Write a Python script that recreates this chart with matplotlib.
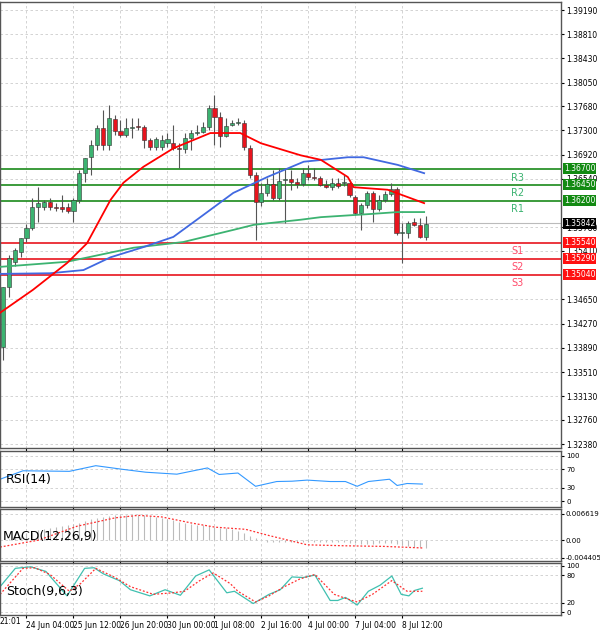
import numpy as np
import matplotlib
matplotlib.use('Agg')
import matplotlib.pyplot as plt

# candles (open, high, low, close)
opens = [1.3390,1.3484,1.3524,1.3539,1.3561,1.3577,1.3610,1.3610,1.3618,1.3610,1.3610,1.3610,1.3604,1.3621,1.3663,
         1.3688,1.3707,1.3734,1.3707,1.3748,1.3729,1.3723,1.3734,1.3737,1.3735,1.3715,1.3704,1.3704,1.3710,1.3710,
         1.3702,1.3701,1.3718,1.3726,1.3728,1.3735,1.3765,1.3751,1.3721,1.3739,1.3742,1.3742,1.3702,1.3660,1.3618,
         1.3632,1.3646,1.3624,1.3652,1.3654,1.3649,1.3646,1.3663,1.3657,1.3655,1.3644,1.3641,1.3648,1.3648,1.3648,
         1.3626,1.3600,1.3613,1.3632,1.3607,1.3621,1.3630,1.3638,1.3569,1.3569,1.3586,1.3582,1.3563]
highs = [1.3484,1.3535,1.3545,1.3561,1.3583,1.3624,1.3641,1.3621,1.3624,1.3616,1.3629,1.3616,1.3624,1.3668,1.3687,
         1.3715,1.3739,1.3762,1.3770,1.3755,1.3746,1.3750,1.3750,1.3750,1.3739,1.3718,1.3720,1.3723,1.3726,1.3739,
         1.3710,1.3726,1.3731,1.3739,1.3743,1.3770,1.3786,1.3759,1.3750,1.3746,1.3750,1.3746,1.3707,1.3665,1.3648,
         1.3655,1.3668,1.3671,1.3671,1.3668,1.3655,1.3671,1.3676,1.3671,1.3658,1.3652,1.3655,1.3655,1.3660,1.3652,
         1.3629,1.3616,1.3635,1.3635,1.3629,1.3635,1.3648,1.3641,1.3585,1.3588,1.3593,1.3593,1.3596]
lows = [1.3370,1.3469,1.3518,1.3531,1.3555,1.3574,1.3586,1.3605,1.3605,1.3604,1.3602,1.3600,1.3586,1.3616,1.3649,
        1.3660,1.3699,1.3699,1.3699,1.3723,1.3720,1.3720,1.3718,1.3731,1.3702,1.3699,1.3699,1.3699,1.3704,1.3699,
        1.3671,1.3695,1.3699,1.3723,1.3726,1.3731,1.3707,1.3704,1.3720,1.3737,1.3739,1.3699,1.3655,1.3558,1.3612,
        1.3627,1.3621,1.3621,1.3585,1.3637,1.3640,1.3643,1.3652,1.3652,1.3643,1.3640,1.3637,1.3640,1.3643,1.3626,
        1.3597,1.3574,1.3608,1.3586,1.3604,1.3618,1.3627,1.3566,1.3522,1.3561,1.3580,1.3561,1.3558]
closes = [1.3484,1.3530,1.3542,1.3561,1.3577,1.3610,1.3616,1.3618,1.3610,1.3608,1.3607,1.3604,1.3621,1.3663,1.3687,
          1.3707,1.3734,1.3707,1.3750,1.3729,1.3723,1.3734,1.3735,1.3735,1.3715,1.3704,1.3717,1.3715,1.3717,1.3702,
          1.3701,1.3718,1.3726,1.3728,1.3735,1.3765,1.3751,1.3721,1.3737,1.3742,1.3743,1.3704,1.3660,1.3618,1.3632,
          1.3646,1.3624,1.3651,1.3654,1.3649,1.3646,1.3663,1.3657,1.3655,1.3644,1.3641,1.3648,1.3643,1.3649,1.3629,
          1.3600,1.3613,1.3632,1.3607,1.3621,1.3630,1.3638,1.3569,1.3570,1.3585,1.3582,1.3563,1.3584]

# moving averages (candle index, price)
ma_red_x = [-0.5,5.1,10.9,14.3,18.3,20.5,23.9,29,35.3,40.4,43.9,50.7,54.1,58.7,59.7,65.5,71.7]
ma_red_y = [1.3444,1.3480,1.3522,1.3553,1.3621,1.3648,1.3673,1.3702,1.3726,1.3726,1.3710,1.3691,1.3684,1.3657,1.3641,1.3637,1.3616]
ma_blue_x = [-0.5,8,13.7,18.3,23.9,29,33.6,39.2,45,51.2,58.7,61.4,67.2,71.7]
ma_blue_y = [1.3505,1.3506,1.3511,1.3531,1.3547,1.3563,1.3594,1.3632,1.3657,1.3681,1.3688,1.3688,1.3676,1.3663]
ma_green_x = [-0.5,10.9,22.2,30.7,39.2,42.7,50.7,54.1,62.6,67.2,71.7]
ma_green_y = [1.3516,1.3524,1.3546,1.3555,1.3574,1.3582,1.3590,1.3594,1.3599,1.3602,1.3602]

res_levels = [1.3620, 1.3645, 1.3670]
res_names = ['R1', 'R2', 'R3']
sup_levels = [1.3554, 1.3529, 1.3504]
sup_names = ['S1', 'S2', 'S3']
last_price = 1.35842

price_ticks = [1.39190,1.38810,1.38430,1.38050,1.37680,1.37300,1.36920,1.36540,1.35780,1.35410,
               1.34650,1.34270,1.33890,1.33510,1.33130,1.32760,1.32380]

rsi_x = [-0.5,3.4,11.3,15.8,20.4,24.3,29.6,34.8,36.8,40,43,46.6,49.2,51.8,55.7,58.3,60.3,62.2,65.8,67.1,68.8,71.4]
rsi_y = [48.5,66.9,65.7,78,70,63.8,59.5,73.1,58.9,62,33.1,43.5,44.2,46.6,43.5,43.5,33.1,43.5,48.5,34.9,39.2,38]

macd_hist = [0,3.9,7.8,13.2,17.9,21.7,24.8,27.2,29.5,32.6,34.9,37.2,40.4,44.2,48.1,52,55.9,59,60.5,62.1,62.9,
             63.6,63.6,62.9,62.1,60.5,58.2,55.9,52.8,49.7,46.6,42.7,40.4,38.8,37.2,34.9,32.6,31,29.5,27.2,23.3,
             17.1,11.6,6.2,0,-3.9,-5.4,-4.7,-3.9,-4.7,-5.4,-4.7,-3.9,-4.7,-3.9,-3.9,-4.7,-4.7,-5.4,-6.2,-7.8,
             -9.3,-10.1,-9.3,-7.8,-7.8,-7.8,-9.3,-12.4,-15.5,-17.1,-17.8,-19.4]  # x1e-4
macd_sig_x = [-0.5,6,12.6,19.1,23,27,32.2,36.1,41.3,45.3,51.8,58.3,64.9,71.4]
macd_sig_y = [-17.1,0,34.9,55.9,62.1,58.2,42.7,32.6,27.2,11.6,-11.6,-14,-15.5,-19.4]

st_main_x = [-0.5,2.1,4.7,7.3,10.9,13.9,15.5,17.1,19.8,21.7,25,27.6,30.2,32.8,35.1,38.1,39.4,42.6,45.3,47.2,
             49.2,51.1,53.1,55.7,57,58.3,60.3,62.2,64.2,66.2,67.8,69.1,70.1,71.4]
st_main_y = [55,94.5,97.8,87.9,35.2,94.5,95.8,82.6,68.1,48.4,35.2,48.4,36.5,78,91.2,41.8,45.1,18.7,38.5,48.4,
             76,74.7,80,25.3,25.3,31.9,15.4,45.1,58.2,78,38.5,35.2,47,51.7]
st_sig_x = [-0.5,3.4,5.4,8,11.3,13.2,15.8,19.1,21.7,25.6,28.9,30.9,33.5,35.8,38.7,40,43,45.3,47.9,50.5,53.1,
            56.4,58.3,60.3,62.9,66.2,68.8,71.4]
st_sig_y = [38.5,94.5,95.8,81.3,45.1,61.5,94.5,74.7,55,38.5,41.8,45.1,68.1,84.6,61.5,45.1,22,35.2,55,71.4,81.3,
            38.5,29.9,22,38.5,68.1,45.1,45.1]

tick_idx = [4, 12, 20, 28, 36, 44, 52, 60, 68]
tick_lab = ['24 Jun 04:00', '25 Jun 12:00', '26 Jun 20:00', '30 Jun 00:00', '1 Jul 08:00',
            '2 Jul 16:00', '4 Jul 00:00', '7 Jul 04:00', '8 Jul 12:00']

GREEN = '#3cb371'
RED = '#e8141e'
DKGREEN = '#1a8a1a'
XL = (-0.51, 95.0)

fig = plt.figure(figsize=(6, 6.3), dpi=100)
W = 561 / 600
def panel(top, bottom):
    return fig.add_axes([0, 1 - bottom / 630, W, (bottom - top) / 630])

ax = panel(2, 448)
ax_rsi = panel(451, 507)
ax_macd = panel(509, 561)
ax_st = panel(563, 615)

for a in (ax, ax_rsi, ax_macd, ax_st):
    a.set_xlim(*XL)
    a.yaxis.tick_right()
    a.tick_params(axis='y', labelsize=5.5, length=2, pad=2)
    a.set_xticks(tick_idx)
    a.set_xticklabels([])
    a.tick_params(axis='x', length=2)
    a.grid(True, color='#cccccc', linestyle=(0, (3, 3)), linewidth=0.6)
    for s in a.spines.values():
        s.set_color('#555555')
        s.set_linewidth(1)

# candles
idx = np.arange(len(closes))
for i in idx:
    o, h, l, c = opens[i], highs[i], lows[i], closes[i]
    col = GREEN if c >= o else RED
    ax.vlines(i, l, h, color='#555555', linewidth=0.8, zorder=3)
    ax.bar(i, max(abs(c - o), 0.00004), bottom=min(o, c), width=0.7, color=col,
           edgecolor='#333333', linewidth=0.4, zorder=4)

ax.plot(ma_green_x, ma_green_y, color='#3cb371', linewidth=1.3, zorder=5)
ax.plot(ma_blue_x, ma_blue_y, color='#4169e1', linewidth=1.3, zorder=5)
ax.plot(ma_red_x, ma_red_y, color='#ff0000', linewidth=1.3, zorder=5)

for lv, nm in zip(res_levels, res_names):
    ax.axhline(lv, color=DKGREEN, linewidth=1.2, zorder=2)
    ax.text(86.5, lv - 0.0006, nm, color='#3cb371', fontsize=7, va='top')
    ax.annotate(f'{lv:.5f}', xy=(1.005, lv), xycoords=('axes fraction', 'data'), fontsize=5.5,
                color='white', va='center', ha='left', zorder=10,
                bbox=dict(boxstyle='square,pad=0.15', fc='#128a12', ec='none'))
for lv, nm in zip(sup_levels, sup_names):
    ax.axhline(lv, color=RED, linewidth=1.2, zorder=2)
    ax.text(86.5, lv - 0.0006, nm, color='#ff4b6b', fontsize=7, va='top')
    ax.annotate(f'{lv:.5f}', xy=(1.005, lv), xycoords=('axes fraction', 'data'), fontsize=5.5,
                color='white', va='center', ha='left', zorder=10,
                bbox=dict(boxstyle='square,pad=0.15', fc='#ff1010', ec='none'))
ax.axhline(last_price, color='#bbbbbb', linewidth=0.8, zorder=1)
ax.annotate(f'{last_price:.5f}', xy=(1.005, last_price), xycoords=('axes fraction', 'data'), fontsize=5.5,
            color='white', va='center', ha='left', zorder=10,
            bbox=dict(boxstyle='square,pad=0.15', fc='black', ec='none'))

ax.set_ylim(1.32318, 1.39316)
ax.set_yticks(price_ticks)
ax.set_yticklabels([f'{t:.5f}' for t in price_ticks])

# RSI
ax_rsi.plot(rsi_x, rsi_y, color='#3399ff', linewidth=0.8)
ax_rsi.set_ylim(-12, 110)
ax_rsi.set_yticks([0, 30, 70, 100])
ax_rsi.tick_params(axis='y', labelsize=5)
ax_rsi.text(0.5, 48, 'RSI(14)', fontsize=9, va='center')

# MACD
ax_macd.vlines(idx, 0, np.array(macd_hist) * 1e-4, color='#bbbbbb', linewidth=0.8)
ax_macd.plot(macd_sig_x, np.array(macd_sig_y) * 1e-4, color='#ff3030', linewidth=0.9, linestyle=(0, (1.5, 1.5)))
ax_macd.set_ylim(-0.0052, 0.0078)
ax_macd.set_yticks([-0.004405, 0.0, 0.006619])
ax_macd.set_yticklabels(['-0.004405', '0.00', '0.006619'])
ax_macd.tick_params(axis='y', labelsize=5, pad=1)
ax_macd.text(0, 0.0010, 'MACD(12,26,9)', fontsize=9, va='center')

# Stochastic
ax_st.plot(st_main_x, st_main_y, color='#40c0b0', linewidth=0.9)
ax_st.plot(st_sig_x, st_sig_y, color='#ff3030', linewidth=0.9, linestyle=(0, (1.5, 1.5)))
ax_st.set_ylim(-6, 106)
ax_st.set_yticks([0, 20, 80, 100])
ax_st.tick_params(axis='y', labelsize=5)
ax_st.text(0.5, 45, 'Stoch(9,6,3)', fontsize=9, va='center')

ax_st.set_xticklabels(tick_lab, fontsize=5.5, ha='left')
ax_st.tick_params(axis='x', pad=2)
fig.text(0.0, 8 / 630, '21:01', fontsize=5.5, va='center')

fig.savefig('out.png', dpi=100)
